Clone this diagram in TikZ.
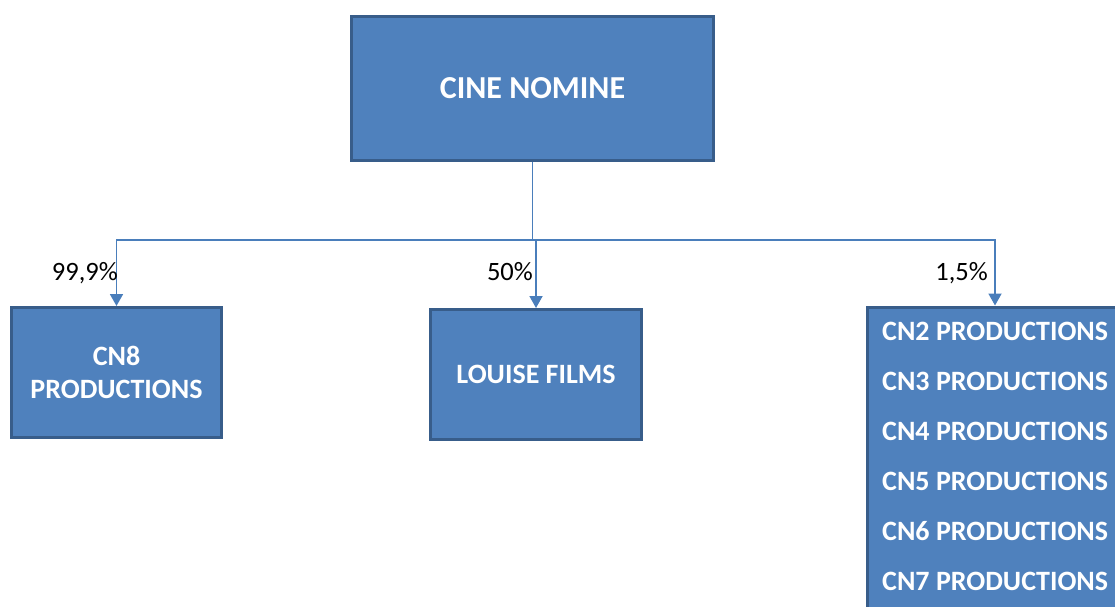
\documentclass[tikz,border=0pt]{standalone}
\usepackage{fontspec}
\setmainfont{Carlito}
\usetikzlibrary{positioning, arrows.meta}
\definecolor{boxFill}{HTML}{4F81BD}
\definecolor{boxEdge}{HTML}{385D8A}
\definecolor{linkBlue}{HTML}{4A7EBB}

\begin{document}
\begin{tikzpicture}[
    x=1pt, y=1pt,
    company/.style={draw=boxEdge, fill=boxFill, line width=3pt, text=white, align=center, inner sep=0pt,
        font=\fontsize{28}{33}\selectfont\bfseries},
    link/.style={draw=linkBlue, line width=1.8pt},
    owns/.style={link, -{Triangle[width=13pt, length=12pt]}},
    share/.style={inner sep=0pt, anchor=base east, font=\fontsize{26.5}{30}\selectfont},
    sub/.style={inner sep=0pt, anchor=base west, text=white, font=\fontsize{28}{30}\selectfont\bfseries}
]
    \useasboundingbox (0,0) rectangle (1115,606);
    \clip (0,0) rectangle (1115,606);

    % parent and the owned companies
    \node[company, minimum width=362pt, minimum height=144pt, font=\fontsize{32}{36}\selectfont\bfseries] (cine) at (532.5,517.5) {CINE NOMINE};
    \node[company, minimum width=210pt, minimum height=130pt] (cn8) at (116.5,233.5) {CN8\\PRODUCTIONS};
    \node[company, minimum width=211pt, minimum height=130pt] (louise) at (536,231.5) {LOUISE FILMS};
    \node[company, anchor=north west, minimum width=300pt, minimum height=330pt] (grp) at (865.5,300.5) {};
    \foreach \n [count=\i from 0] in {2,...,7}
        \node[sub] (cn\n) at (882,266-50*\i) {CN\n{} PRODUCTIONS};

    % links
    \coordinate (grpin) at ([xshift=129.5pt]grp.north west);
    \draw[link] (cine.south) -- ++(0,-78) coordinate (bus);
    \draw[owns] (bus) -| (cn8.north);
    \draw[owns] (bus) -| (louise.north);
    \draw[owns] (bus) -| (grpin);

    \node[share] (p8) at (118,326) {99,9\%};
    \node[share] (plouise) at (533,326) {50\%};
    \node[share] (pgrp) at (988,326) {1,5\%};
\end{tikzpicture}
\end{document}
